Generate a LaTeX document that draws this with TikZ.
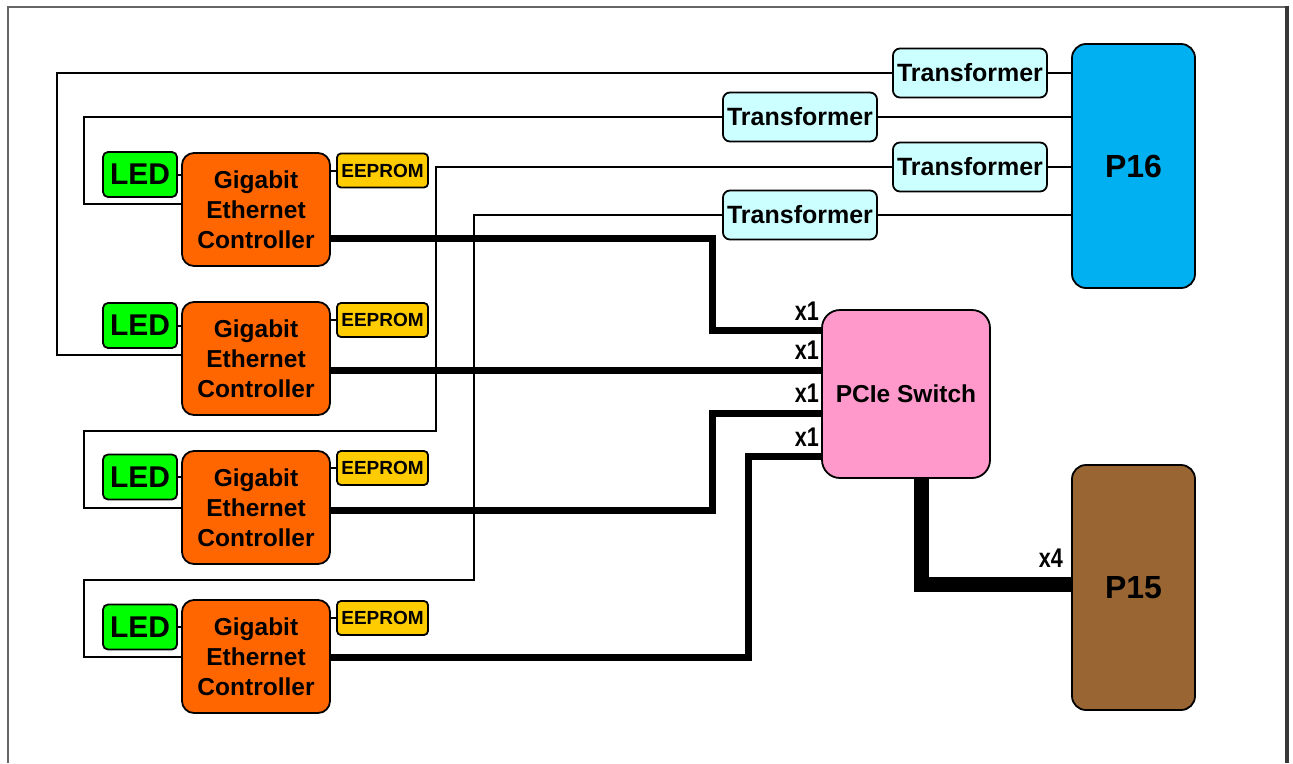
\documentclass[tikz,border=0pt]{standalone}
\usepackage{fontspec}
\setmainfont{Liberation Sans}
\definecolor{gecc}{HTML}{FF6600}
\definecolor{ledc}{HTML}{00FF00}
\definecolor{eepc}{HTML}{FFCC00}
\definecolor{trc}{HTML}{CCFFFF}
\definecolor{p16c}{HTML}{00B0F0}
\definecolor{p15c}{HTML}{996633}
\definecolor{swc}{HTML}{FF99CC}
\begin{document}
\begin{tikzpicture}[x=1pt,y=-1pt,
  box/.style={draw=black, line width=1.8pt, inner sep=0pt, align=center, text=black},
  gec/.style={box, fill=gecc, minimum width=148pt, minimum height=113pt, rounded corners=12pt, font=\bfseries\fontsize{24.5}{30}\selectfont},
  led/.style={box, fill=ledc, minimum width=74pt, minimum height=45pt, rounded corners=5pt, font=\bfseries\fontsize{30}{30}\selectfont},
  eep/.style={box, fill=eepc, minimum width=91pt, minimum height=34pt, rounded corners=4pt, font=\bfseries\fontsize{19}{20}\selectfont},
  trf/.style={box, fill=trc, minimum width=154pt, minimum height=49pt, rounded corners=7pt, font=\bfseries\fontsize{25}{25}\selectfont},
  conn/.style={box, minimum width=123pt, minimum height=244pt, rounded corners=14pt, font=\bfseries\fontsize{32}{34}\selectfont},
  lbl/.style={inner sep=0pt, font=\bfseries\fontsize{27}{28}\selectfont},
  wire/.style={line width=2.6pt, draw=black},
  bus/.style={line width=7pt, draw=black},
  bigbus/.style={line width=15pt, draw=black}
]
\useasboundingbox (0,0) rectangle (1293,763);
% frame
\draw[line width=1.6pt, draw=black!60] (8,763) -- (8,7) -- (1287,7);
\draw[line width=3.5pt, draw=black!78] (1287,5.5) -- (1287,763);

% controllers
\node[gec] (g1) at (256,209.5) {Gigabit\\Ethernet\\Controller};
\node[gec] (g2) at (256,358.5) {Gigabit\\Ethernet\\Controller};
\node[gec] (g3) at (256,507.5) {Gigabit\\Ethernet\\Controller};
\node[gec] (g4) at (256,656.5) {Gigabit\\Ethernet\\Controller};
% LEDs
\node[led] (led1) at (140,174.5) {LED};
\node[led] (led2) at (140,325.5) {LED};
\node[led] (led3) at (140,477) {LED};
\node[led] (led4) at (140,627) {LED};
% EEPROMs
\node[eep] (e1) at (382.5,170.5) {EEPROM};
\node[eep] (e2) at (382.5,320) {EEPROM};
\node[eep] (e3) at (382.5,468) {EEPROM};
\node[eep] (e4) at (382.5,618) {EEPROM};
% transformers
\node[trf] (t1) at (970,73) {Transformer};
\node[trf] (t2) at (800,117) {Transformer};
\node[trf] (t3) at (970,167) {Transformer};
\node[trf] (t4) at (800,215) {Transformer};
% connectors
\node[conn, fill=p16c] (p16) at (1133.5,166) {P16};
\node[conn, fill=p15c, minimum height=245pt] (p15) at (1133.5,587.5) {P15};
% switch
\node[box, fill=swc, minimum width=168pt, minimum height=168pt, rounded corners=18pt, font=\bfseries\fontsize{24.5}{26}\selectfont] (sw) at (906,394) {PCIe Switch};

% short links
\foreach \i in {1,2,3,4} {
  \draw[wire, line width=2pt] (led\i.east) -- (g\i.west |- led\i.east);
  \draw[wire, line width=2pt] (g\i.east |- e\i.west) -- (e\i.west);
}

% transformer to P16
\draw[wire] (t1.east) -- (p16.west |- t1.east);
\draw[wire] (t2.east) -- (p16.west |- t2.east);
\draw[wire] (t3.east) -- (p16.west |- t3.east);
\draw[wire] (t4.east) -- (p16.west |- t4.east);

% controllers to transformers
\draw[wire] (g1.west |- 0,204) -- (84,204) -- (84,117) -- (t2.west);
\draw[wire] (g2.west |- 0,355) -- (57,355) -- (57,73) -- (t1.west);
\draw[wire] (g3.west |- 0,508) -- (84,508) -- (84,431) -- (436,431) -- (436,167) -- (t3.west);
\draw[wire] (g4.west |- 0,657) -- (84,657) -- (84,580) -- (474,580) -- (474,215) -- (t4.west);

% PCIe buses
\draw[bus] (g1.east |- 0,238) -- (712,238) -- (712,330) -- (sw.west |- 0,330);
\draw[bus] (g2.east |- 0,370) -- (sw.west |- 0,370);
\draw[bus] (g3.east |- 0,510) -- (712,510) -- (712,413) -- (sw.west |- 0,413);
\draw[bus] (g4.east |- 0,657) -- (748,657) -- (748,456) -- (sw.west |- 0,456);
\draw[bigbus] (sw.south -| 921,0) -- (921,584) -- (p15.west |- 0,584);

% labels
\node[lbl, anchor=east] (x1a) at (819,311) {\scalebox{0.8}[1]{x1}};
\node[lbl, anchor=east] (x1b) at (819,350) {\scalebox{0.8}[1]{x1}};
\node[lbl, anchor=east] (x1c) at (819,393) {\scalebox{0.8}[1]{x1}};
\node[lbl, anchor=east] (x1d) at (819,437) {\scalebox{0.8}[1]{x1}};
\node[lbl, anchor=east] (x4) at (1063,558) {\scalebox{0.8}[1]{x4}};
\end{tikzpicture}
\end{document}
